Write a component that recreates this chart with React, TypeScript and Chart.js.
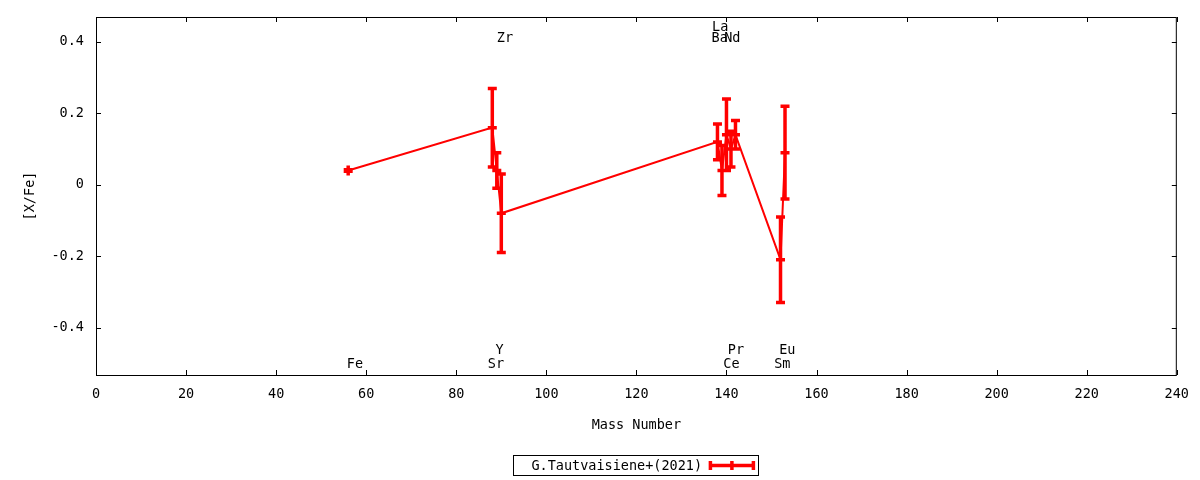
import { useEffect, useRef } from 'react';
import { Chart, registerables } from 'chart.js';
import type { ChartConfiguration, Plugin } from 'chart.js';

Chart.register(...registerables);

// [X/Fe] per element, plotted at the mass number of its main isotope
const elements = ['Fe', 'Sr', 'Y', 'Zr', 'Ba', 'La', 'Ce', 'Pr', 'Nd', 'Sm', 'Eu'];
const massNumbers = [56, 88, 89, 90, 138, 139, 140, 141, 142, 152, 153];
const abundances = [0.04, 0.16, 0.04, -0.08, 0.12, 0.04, 0.14, 0.1, 0.14, -0.21, 0.09];
const errors = [0.002, 0.11, 0.05, 0.11, 0.05, 0.07, 0.1, 0.05, 0.04, 0.12, 0.13];

// element name annotations: where the text sits along the mass axis, and which row
const labelMass = [57.5, 88.8, 89.6, 90.8, 138.5, 138.6, 141.1, 142.1, 141.3, 152.4, 153.5];
const labelRow = ['b1', 'b1', 'b2', 't1', 't1', 't2', 'b1', 'b2', 't1', 'b1', 'b2'];

const xTicks = [0, 20, 40, 60, 80, 100, 120, 140, 160, 180, 200, 220, 240];
const yTicks = [-0.4, -0.2, 0, 0.2, 0.4];

const seriesLabel = 'G.Tautvaisiene+(2021)';
const RED = '#ff0000';
const FONT_FAMILY = '"DejaVu Sans Mono", monospace';
const FONT_SIZE = 13.5;
const FONT = `${FONT_SIZE}px ${FONT_FAMILY}`;

// gnuplot-ish frame: border, inward ticks on all four sides, axis titles, legend
const framePlugin: Plugin<'line'> = {
  id: 'frame',
  afterDraw(chart) {
    const { ctx, chartArea: a, scales } = chart;
    const tick = 5;
    ctx.save();
    ctx.strokeStyle = '#000';
    ctx.lineWidth = 1;
    ctx.strokeRect(a.left + 0.5, a.top + 0.5, a.right - a.left - 1, a.bottom - a.top);
    ctx.beginPath();
    xTicks.forEach((v) => {
      const x = Math.round(scales.x.getPixelForValue(v)) + 0.5;
      ctx.moveTo(x, a.bottom);
      ctx.lineTo(x, a.bottom - tick);
      ctx.moveTo(x, a.top);
      ctx.lineTo(x, a.top + tick);
    });
    yTicks.forEach((v) => {
      const y = Math.round(scales.y.getPixelForValue(v)) + 0.5;
      ctx.moveTo(a.left, y);
      ctx.lineTo(a.left + tick, y);
      ctx.moveTo(a.right, y);
      ctx.lineTo(a.right - tick, y);
    });
    ctx.stroke();

    ctx.fillStyle = '#000';
    ctx.font = FONT;
    ctx.textAlign = 'center';
    ctx.textBaseline = 'middle';
    ctx.fillText('Mass Number', (a.left + a.right) / 2, 425);
    ctx.save();
    ctx.translate(30, (a.top + a.bottom) / 2);
    ctx.rotate(-Math.PI / 2);
    ctx.fillText('[X/Fe]', 0, 0);
    ctx.restore();

    // legend box with an error-bar sample
    const cx = (a.left + a.right) / 2;
    const boxL = cx - 123;
    const boxW = 245;
    const boxT = 455;
    const boxH = 20;
    ctx.textAlign = 'left';
    ctx.strokeRect(Math.round(boxL) + 0.5, boxT + 0.5, boxW, boxH);
    ctx.fillText(seriesLabel, boxL + 18, boxT + boxH / 2 + 1);
    const sy = boxT + boxH / 2 + 0.5;
    const s0 = boxL + 197;
    const s1 = boxL + 240;
    ctx.strokeStyle = RED;
    ctx.lineWidth = 3.5;
    ctx.beginPath();
    ctx.moveTo(s0, sy);
    ctx.lineTo(s1, sy);
    [s0, (s0 + s1) / 2, s1].forEach((x) => {
      ctx.moveTo(x, sy - 4.5);
      ctx.lineTo(x, sy + 4.5);
    });
    ctx.stroke();
    ctx.restore();
  },
};

const errorBarPlugin: Plugin<'line'> = {
  id: 'errorBars',
  afterDatasetsDraw(chart) {
    const { ctx, scales } = chart;
    ctx.save();
    ctx.strokeStyle = RED;
    ctx.lineWidth = 3.5;
    ctx.beginPath();
    massNumbers.forEach((m, i) => {
      const x = scales.x.getPixelForValue(m);
      const yc = scales.y.getPixelForValue(abundances[i]);
      const yt = scales.y.getPixelForValue(abundances[i] + errors[i]);
      const yb = scales.y.getPixelForValue(abundances[i] - errors[i]);
      ctx.moveTo(x, Math.min(yt, yc - 5));
      ctx.lineTo(x, Math.max(yb, yc + 5));
      [yt, yc, yb].forEach((y) => {
        ctx.moveTo(x - 4.5, y);
        ctx.lineTo(x + 4.5, y);
      });
    });
    ctx.stroke();

    ctx.fillStyle = '#000';
    ctx.font = FONT;
    ctx.textAlign = 'center';
    ctx.textBaseline = 'middle';
    const a = chart.chartArea;
    const rowY: Record<string, number> = {
      b1: a.bottom - 11,
      b2: a.bottom - 25,
      t1: a.top + 21,
      t2: a.top + 10,
    };
    elements.forEach((name, i) => {
      ctx.fillText(name, scales.x.getPixelForValue(labelMass[i]), rowY[labelRow[i]]);
    });
    ctx.restore();
  },
};

export default function App() {
  const canvasRef = useRef<HTMLCanvasElement>(null);
  const chartRef = useRef<Chart<'line'> | null>(null);

  useEffect(() => {
    if (!canvasRef.current) return;
    if (chartRef.current) chartRef.current.destroy();

    const tickFont = { family: FONT_FAMILY, size: FONT_SIZE };

    const config: ChartConfiguration<'line'> = {
      type: 'line',
      data: {
        datasets: [
          {
            label: seriesLabel,
            data: massNumbers.map((m, i) => ({ x: m, y: abundances[i] })),
            borderColor: RED,
            backgroundColor: RED,
            borderWidth: 2,
            pointRadius: 0,
            tension: 0,
            fill: false,
          },
        ],
      },
      options: {
        animation: false,
        responsive: false,
        events: [],
        layout: { padding: { top: 17, right: 23, left: 0, bottom: 0 } },
        plugins: {
          legend: { display: false },
          tooltip: { enabled: false },
        },
        scales: {
          x: {
            type: 'linear',
            min: 0,
            max: 240,
            afterBuildTicks: (s) => {
              s.ticks = xTicks.map((v) => ({ value: v }));
            },
            afterFit: (s) => {
              s.height = 105;
            },
            grid: { display: false, drawTicks: false },
            border: { display: false },
            ticks: {
              color: '#000',
              font: tickFont,
              padding: 11,
              maxRotation: 0,
              autoSkip: false,
              callback: (v) => String(v),
            },
          },
          y: {
            type: 'linear',
            min: -0.533,
            max: 0.47,
            afterBuildTicks: (s) => {
              s.ticks = yTicks.map((v) => ({ value: v }));
            },
            afterFit: (s) => {
              s.width = 96;
              s.paddingTop = 0;
              s.paddingBottom = 0;
            },
            grid: { display: false, drawTicks: false },
            border: { display: false },
            ticks: {
              color: '#000',
              font: tickFont,
              padding: 12,
              autoSkip: false,
              callback: (v) => String(v),
            },
          },
        },
      },
      plugins: [errorBarPlugin, framePlugin],
    };

    chartRef.current = new Chart(canvasRef.current, config);

    return () => {
      if (chartRef.current) {
        chartRef.current.destroy();
        chartRef.current = null;
      }
    };
  }, []);

  return (
    <div style={{ position: 'fixed', left: 0, top: 0, width: 1200, height: 480, background: '#fff' }}>
      <canvas ref={canvasRef} width={1200} height={480} style={{ display: 'block' }}></canvas>
    </div>
  );
}
